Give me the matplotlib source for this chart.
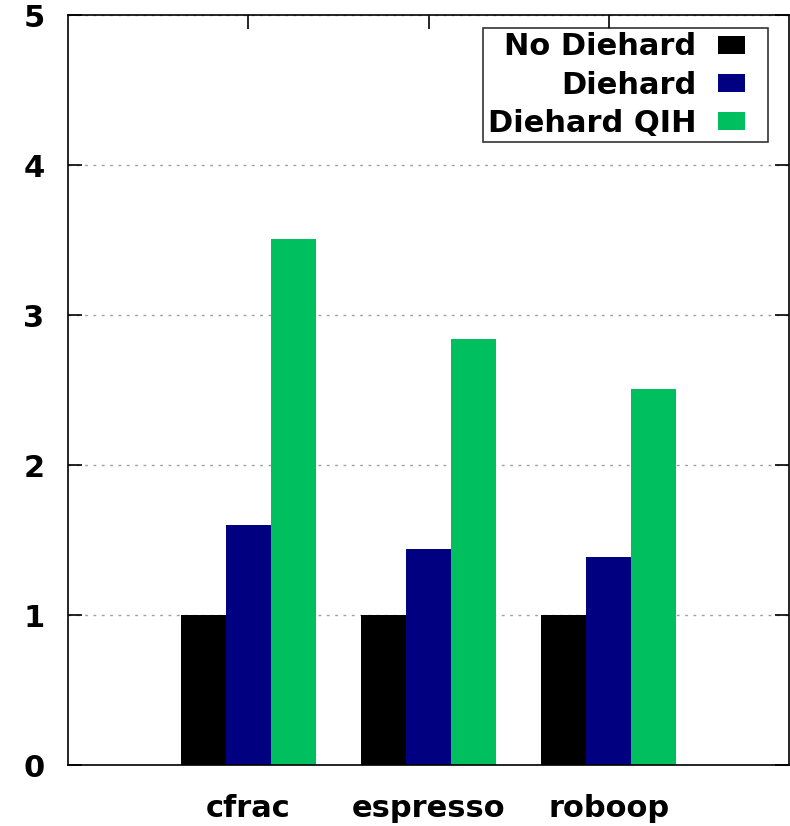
import numpy as np
import matplotlib
matplotlib.use("Agg")
import matplotlib.pyplot as plt
from matplotlib.patches import Rectangle
from matplotlib.legend_handler import HandlerPatch

benchmarks = ["cfrac", "espresso", "roboop"]
series_names = ["No Diehard", "Diehard", "Diehard QIH"]
no_diehard = [1.0, 1.0, 1.0]
diehard = [1.60, 1.44, 1.39]
diehard_qih = [3.51, 2.84, 2.51]
colors = ["#000000", "#000080", "#00bf5f"]

plt.rcParams['font.family'] = ['DejaVu Sans']
plt.rcParams['font.weight'] = 'bold'


def key_box(legend, orig_handle, xdescent, ydescent, width, height, fontsize):
    # gnuplot style key: small box, extra room on the right
    w, h = 19.5, 13.0
    return Rectangle((-xdescent, -ydescent + (height - h) / 2), w, h)


fig = plt.figure(figsize=(7.9, 8.26), dpi=100)
ax = fig.add_axes([0.0861, 0.0738, 0.9127, 0.908])

x = np.arange(len(benchmarks))
width = 0.25
for i, vals in enumerate([no_diehard, diehard, diehard_qih]):
    ax.bar(x + (i - 1) * width, vals, width, color=colors[i],
           edgecolor='none', zorder=2)

ax.set_xlim(-1, 3)
ax.set_ylim(0, 5)
ax.set_xticks(x)
ax.set_xticklabels(benchmarks, fontsize=22, fontweight='bold')
ax.set_yticks(range(0, 6))
ax.set_yticklabels([str(v) for v in range(0, 6)], fontsize=22, fontweight='bold')
ax.tick_params(direction='in', length=10, width=1.2, top=True, right=True)
ax.tick_params(axis='y', pad=17)
ax.tick_params(axis='x', pad=21)
ax.set_axisbelow(True)
ax.yaxis.grid(True, linestyle=(0, (2, 4)), color='#a0a0a0', linewidth=1)
for s in ax.spines.values():
    s.set_linewidth(1.2)

handles = [Rectangle((0, 0), 1, 1, facecolor=c, edgecolor='none') for c in colors]
leg = ax.legend(handles, series_names, loc='upper right',
                bbox_to_anchor=(0.971, 0.983), borderaxespad=0,
                fontsize=22, markerfirst=False, frameon=True, fancybox=False,
                handlelength=1.5, handleheight=0.7, handletextpad=0.7,
                borderpad=0.15, labelspacing=0.3,
                handler_map={Rectangle: HandlerPatch(patch_func=key_box)})
leg.get_frame().set_edgecolor('black')
leg.get_frame().set_linewidth(1.2)
for t in leg.get_texts():
    t.set_ha('right')

fig.savefig("out.png", dpi=100)
